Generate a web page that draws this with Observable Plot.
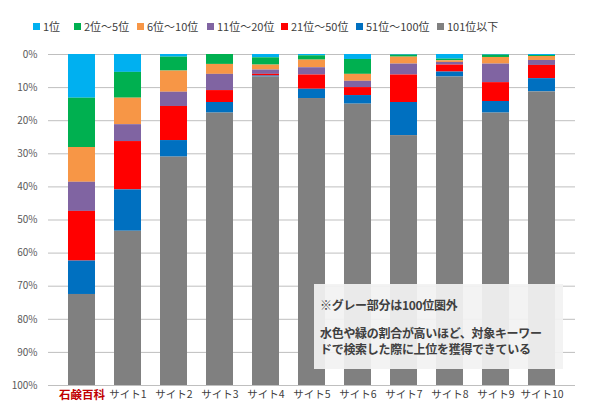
<!DOCTYPE html>
<html><head><meta charset="utf-8">
<script src="https://cdn.jsdelivr.net/npm/d3@7"></script>
<script src="https://cdn.jsdelivr.net/npm/@observablehq/plot@0.6"></script>
<style>
body{margin:0;background:#fff;font-family:"Noto Sans CJK JP",sans-serif;}
#wrap{position:relative;width:600px;height:413px;overflow:hidden;}
#legend{height:40px;font-size:11px;color:#404040;}
#legend .it{display:flex;align-items:center;}
#legend .sw{width:7px;height:7px;margin-right:3px;}
#note{position:absolute;left:314px;top:284px;width:249px;height:85px;background:rgba(242,242,242,0.93);color:#404040;font-size:12px;font-weight:bold;line-height:16px;box-sizing:border-box;padding:13px 0 0 6px;letter-spacing:-0.3px;white-space:nowrap;}
#note .gap{height:12px;}
</style></head>
<body><div id="wrap"><div id="legend"></div><div id="chart"></div>
<div id="note"><div>※グレー部分は100位圏外</div><div class="gap"></div><div>水色や緑の割合が高いほど、対象キーワー</div><div>ドで検索した際に上位を獲得できている</div></div></div>
<script>
const categories = ["石鹸百科","サイト1","サイト2","サイト3","サイト4","サイト5","サイト6","サイト7","サイト8","サイト9","サイト10"];
const seriesNames = ["1位","2位～5位","6位～10位","11位～20位","21位～50位","51位～100位","101位以下"];
const seriesColors = ["#00b0f0","#00b050","#f79646","#8064a2","#ff0000","#0070c0","#808080"];
const rank1     = [13.2, 5.4, 0.8, 0.0, 1.0, 0.4, 1.5, 0.2, 1.4, 0.2, 0.3];
const rank2to5  = [14.9, 7.8, 4.2, 3.0, 2.2, 1.3, 4.5, 0.6, 0.5, 0.7, 0.3];
const rank6to10 = [10.5, 8.0, 6.4, 3.0, 1.5, 2.3, 2.1, 2.1, 0.5, 2.0, 1.2];
const rank11to20= [8.8, 5.1, 4.3, 4.9, 1.3, 2.2, 1.9, 3.3, 0.8, 5.6, 1.5];
const rank21to50= [15.0, 14.6, 10.3, 3.6, 0.5, 4.3, 2.4, 8.3, 2.1, 5.7, 4.0];
const rank51to100=[10.1, 12.5, 5.0, 3.2, 0.3, 2.8, 2.6, 10.0, 1.5, 3.5, 4.0];
const rank101up = [27.5, 46.6, 69.0, 82.3, 93.2, 86.7, 85.0, 75.5, 93.2, 82.3, 88.7];
const yTicks = [0,10,20,30,40,50,60,70,80,90,100];

const seriesValues = [rank1, rank2to5, rank6to10, rank11to20, rank21to50, rank51to100, rank101up];
const table = [];
categories.forEach((c, i) => seriesNames.forEach((s, j) => table.push({site: c, rank: s, value: seriesValues[j][i]})));

const leg = document.getElementById("legend");
const legX = [33, 74, 137, 207, 281, 356, 437];
seriesNames.forEach((s, j) => {
  const d = document.createElement("div"); d.className = "it";
  d.style.position = "absolute"; d.style.left = legX[j] + "px"; d.style.top = "18px";
  d.innerHTML = `<div class="sw" style="background:${seriesColors[j]}"></div><span>${s}</span>`;
  leg.appendChild(d);
});

const plot = Plot.plot({
  width: 600, height: 373,
  marginTop: 14, marginBottom: 28, marginLeft: 48, marginRight: 25,
  style: {fontFamily: "'Noto Sans CJK JP', sans-serif", background: "transparent"},
  x: {domain: categories, padding: 0.42, label: null},
  y: {domain: [0, 100], reverse: true, label: null},
  color: {domain: seriesNames, range: seriesColors},
  marks: [
    Plot.ruleY(yTicks, {stroke: "#bfbfbf", strokeWidth: 1}),
    Plot.barY(table, {x: "site", y: "value", fill: "rank", order: seriesNames}),
    Plot.axisY({ticks: yTicks, tickSize: 0, tickPadding: 11, tickFormat: d => d + "%", fontSize: 10, fill: "#595959"}),
    Plot.axisX({tickSize: 0, tickPadding: 5, fontSize: 10.5, fill: d => d === "石鹸百科" ? "#c00000" : "#404040"})
  ]
});
document.getElementById("chart").appendChild(plot);
d3.select(plot).selectAll("text").filter(function(){return this.textContent === "石鹸百科";}).attr("font-weight", "bold").attr("font-size", 11.5);
</script></body></html>
